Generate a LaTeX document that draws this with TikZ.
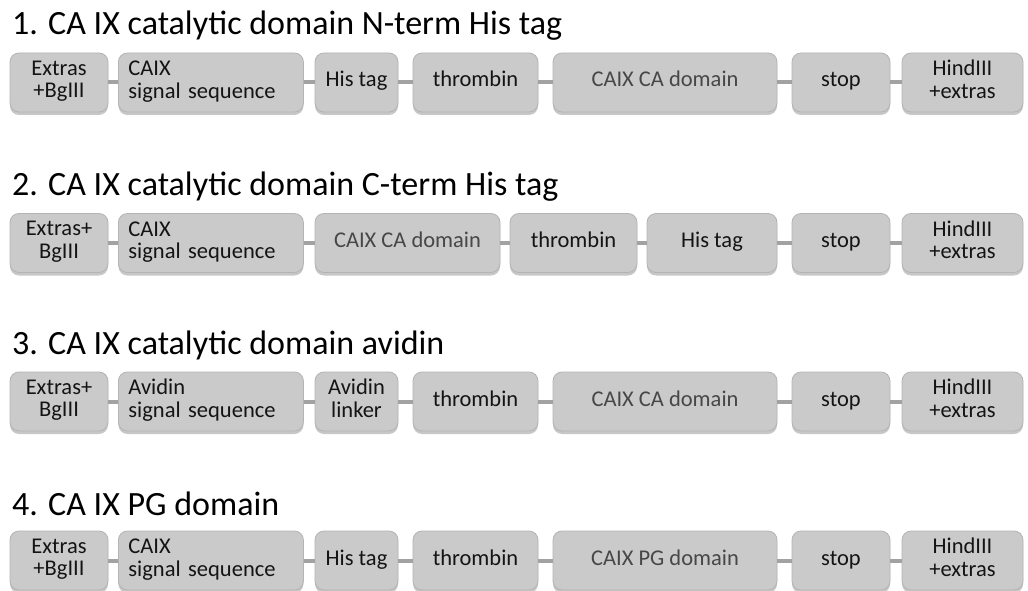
\documentclass[tikz,border=0pt]{standalone}
\usepackage{fontspec}
\setmainfont{Carlito}
\usetikzlibrary{shadows}
\definecolor{boxfill}{HTML}{CACACA}
\definecolor{boxline}{HTML}{B4B4B4}
\definecolor{linkgray}{HTML}{A2A2A2}
\definecolor{txtdark}{HTML}{141414}
\definecolor{txtgray}{HTML}{474747}
\tikzset{
  blk/.style={draw=boxline, line width=0.8pt, fill=boxfill, rounded corners=9pt,
    minimum height=59pt, inner xsep=0pt, inner ysep=0pt, align=center,
    text=txtdark, font=\fontsize{22.5}{22.5}\selectfont,
    execute at begin node=\strut, execute at end node=\strut,
    drop shadow={shadow xshift=0pt, shadow yshift=-3pt, fill=black, opacity=0.22}},
  blkl/.style={blk, align=left},
  dom/.style={text=txtgray},
  link/.style={draw=linkgray, line width=4pt},
  title/.style={anchor=base west, inner sep=0pt, text=black, font=\fontsize{34}{40}\selectfont}
}
% \blkc[opts]{name}{cx}{cy}{width}{text}
\newcommand{\blkc}[6][]{\node[blk,#1, minimum width=#5pt] (#2) at (#3,#4) {#6};}
% left aligned: \blkL{name}{left x}{cy}{width}{text}
\newcommand{\blkL}[5]{\node[blkl, text width=#4pt-20pt, inner xsep=10pt, minimum width=#4pt, anchor=west] (#1) at (#2,#3) {#5};}
\begin{document}
\begin{tikzpicture}[x=1pt,y=-1pt]
\useasboundingbox[fill=white] (0,0) rectangle (1028,591);

% ---------- Row 1 ----------
\node[title] (t1) at (12,35) {1. CA IX catalytic domain N-term His tag};
\blkc{r1a}{59}{82.5}{98}{Extras\\+BgIII}
\blkL{r1b}{118}{82.5}{185}{CAIX\\signal sequence}
\blkc{r1c}{356.5}{82.5}{83}{His tag}
\blkc{r1d}{475.5}{82.5}{125}{thrombin}
\blkc[dom]{r1e}{665}{82.5}{224}{CAIX CA domain}
\blkc{r1f}{841}{82.5}{98}{stop}
\blkc{r1g}{962.5}{82.5}{121}{HindIII\\+extras}
\foreach \a/\b in {r1a/r1b,r1b/r1c,r1c/r1d,r1d/r1e,r1e/r1f,r1f/r1g}
  \draw[link] (\a.east) -- (\b.west);

% ---------- Row 2 ----------
\node[title] (t2) at (12,195) {2. CA IX catalytic domain C-term His tag};
\blkc{r2a}{59}{243}{98}{Extras+\\BgIII}
\blkL{r2b}{118}{243}{185}{CAIX\\signal sequence}
\blkc[dom]{r2c}{407.5}{243}{185}{CAIX CA domain}
\blkc{r2d}{573.5}{243}{127}{thrombin}
\blkc{r2e}{712}{243}{130}{His tag}
\blkc{r2f}{841}{243}{98}{stop}
\blkc{r2g}{962.5}{243}{121}{HindIII\\+extras}
\foreach \a/\b in {r2a/r2b,r2b/r2c,r2c/r2d,r2d/r2e,r2e/r2f,r2f/r2g}
  \draw[link] (\a.east) -- (\b.west);

% ---------- Row 3 ----------
\node[title] (t3) at (12,354) {3. CA IX catalytic domain avidin};
\blkc{r3a}{59}{401.5}{98}{Extras+\\BgIII}
\blkL{r3b}{118}{401.5}{185}{Avidin\\signal sequence}
\blkc{r3c}{356.5}{401.5}{83}{Avidin\\linker}
\blkc{r3d}{475.5}{401.5}{125}{thrombin}
\blkc[dom]{r3e}{665}{401.5}{224}{CAIX CA domain}
\blkc{r3f}{841}{401.5}{98}{stop}
\blkc{r3g}{962.5}{401.5}{121}{HindIII\\+extras}
\foreach \a/\b in {r3a/r3b,r3b/r3c,r3c/r3d,r3d/r3e,r3e/r3f,r3f/r3g}
  \draw[link] (\a.east) -- (\b.west);

% ---------- Row 4 ----------
\node[title] (t4) at (12,515) {4. CA IX PG domain};
\blkc{r4a}{59}{560.5}{98}{Extras\\+BgIII}
\blkL{r4b}{118}{560.5}{185}{CAIX\\signal sequence}
\blkc{r4c}{356.5}{560.5}{83}{His tag}
\blkc{r4d}{475.5}{560.5}{125}{thrombin}
\blkc[dom]{r4e}{665}{560.5}{224}{CAIX PG domain}
\blkc{r4f}{841}{560.5}{98}{stop}
\blkc{r4g}{962.5}{560.5}{121}{HindIII\\+extras}
\foreach \a/\b in {r4a/r4b,r4b/r4c,r4c/r4d,r4d/r4e,r4e/r4f,r4f/r4g}
  \draw[link] (\a.east) -- (\b.west);
\end{tikzpicture}
\end{document}
